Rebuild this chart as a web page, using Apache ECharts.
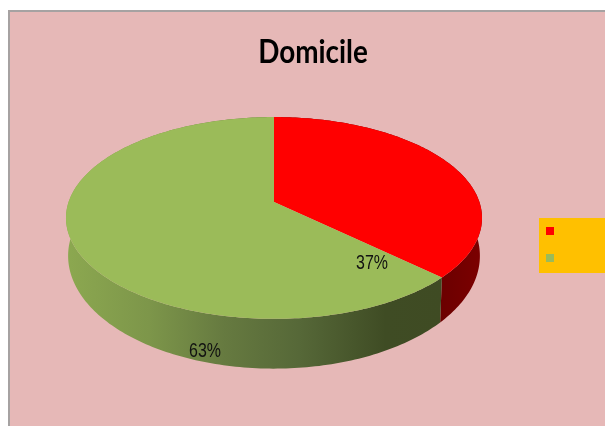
<!DOCTYPE html>
<html>
<head>
<meta charset="utf-8">
<style>html,body{margin:0;padding:0;background:#fff}#chart{width:605px;height:426px}</style>
<script src="https://cdn.jsdelivr.net/npm/echarts@6/dist/echarts.min.js"></script>
</head>
<body>
<div id="chart"></div>
<script>
// Domicile split, in percent
const categories = ['Category 1', 'Category 2'];
const shares = [37, 63];
const chartTitle = 'Domicile';

const topColors = ['#FF0000', '#9BBB59'];

// Perspective disc: u runs right, v runs toward the viewer, k is the foreshortening
const CX = 274, K = 0.158;
const TOP_PLANE = { cy: 202, a: 205.4, b: 98.4 };
const BASE_PLANE = { cy: 238, a: 203.3, b: 110 };

function project(angleDeg, plane) {
  const t = angleDeg * Math.PI / 180;
  const u = Math.sin(t), v = -Math.cos(t);
  const w = 1 - K * v;
  return [CX + plane.a * u / w, plane.cy + plane.b * v / w];
}

function rim(from, to, plane) {
  const pts = [];
  const steps = Math.max(2, Math.ceil(to - from));
  for (let i = 0; i <= steps; i++) pts.push(project(from + (to - from) * i / steps, plane));
  return pts;
}

const total = shares.reduce((s, x) => s + x, 0);

// Side walls use a horizontal shade running across the whole disc
const sideFills = [
  new echarts.graphic.LinearGradient(436, 0, 482, 0, [
    { offset: 0, color: '#690000' },
    { offset: 1, color: '#7C0000' }
  ], true),
  new echarts.graphic.LinearGradient(66, 0, 442, 0, [
    { offset: 0, color: '#8CA850' },
    { offset: 0.22, color: '#7D964A' },
    { offset: 0.42, color: '#667A40' },
    { offset: 0.62, color: '#566838' },
    { offset: 0.85, color: '#3F4C24' },
    { offset: 1, color: '#3F4B23' }
  ], true)
];

const labelAnchors = [[372, 263], [205, 351]];

function sliceRenderer(index) {
  const before = shares.slice(0, index).reduce((s, x) => s + x, 0);
  return function (params, api) {
    const value = api.value(0);
    const start = before / total * 360;
    const end = (before + value) / total * 360;
    const topEdge = rim(start, end, TOP_PLANE);
    const baseEdge = rim(start, end, BASE_PLANE).reverse();
    return {
      type: 'group',
      children: [
        {
          type: 'polygon',
          z2: 1,
          shape: { points: topEdge.concat(baseEdge) },
          style: { fill: sideFills[index] }
        },
        {
          type: 'polygon',
          z2: 2,
          shape: { points: [[CX, TOP_PLANE.cy]].concat(topEdge) },
          style: { fill: topColors[index] }
        },
        {
          type: 'text',
          z2: 3,
          x: labelAnchors[index][0],
          y: labelAnchors[index][1],
          scaleX: 0.76,
          style: {
            text: value + '%',
            fill: '#111111',
            font: '21px "Liberation Sans", Arial, sans-serif',
            align: 'center',
            verticalAlign: 'middle'
          }
        }
      ]
    };
  };
}

const chart = echarts.init(document.getElementById('chart'), null, { renderer: 'canvas' });
chart.setOption({
  animation: false,
  backgroundColor: '#FFFFFF',
  legend: {
    orient: 'vertical',
    left: 539,
    top: 218,
    icon: 'rect',
    itemWidth: 8,
    itemHeight: 8,
    itemGap: 19,
    padding: [9, 60, 11, 7],
    backgroundColor: '#FFC000',
    borderRadius: 0,
    selectedMode: false,
    formatter: () => '',
    data: categories
  },
  graphic: [
    {
      type: 'rect',
      z: -10,
      silent: true,
      shape: { x: 9, y: 11, width: 640, height: 460 },
      style: { fill: '#E6B8B7', stroke: '#A6A2A2', lineWidth: 2 }
    },
    {
      type: 'text',
      z: 10,
      silent: true,
      x: 313,
      y: 53,
      scaleX: 0.87,
      style: {
        text: chartTitle,
        fill: '#000000',
        font: 'bold 32px Lato, "Liberation Sans", sans-serif',
        align: 'center',
        verticalAlign: 'middle'
      }
    }
  ],
  series: categories.map((name, i) => ({
    type: 'custom',
    name: name,
    coordinateSystem: 'none',
    silent: true,
    itemStyle: { color: topColors[i] },
    data: [[shares[i]]],
    renderItem: sliceRenderer(i)
  }))
});
</script>
</body>
</html>
